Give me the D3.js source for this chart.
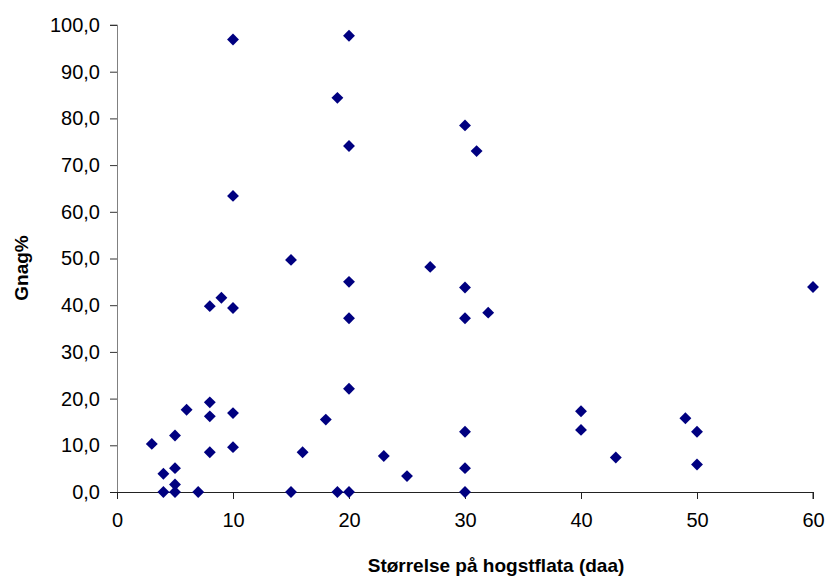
<!DOCTYPE html>
<html>
<head>
<meta charset="utf-8">
<script src="https://cdn.jsdelivr.net/npm/d3@7"></script>
<style>
  html, body { margin: 0; padding: 0; background: #fff; }
  svg { display: block; font-family: "Liberation Sans", Arial, sans-serif; }
</style>
</head>
<body>
<svg id="chart" width="827" height="577"></svg>
<script>
// Størrelse på hogstflata (daa)
const sizes = [3, 4, 4, 5, 5, 5, 5, 6, 7, 8, 8, 8, 10, 10, 15, 16, 18, 19, 20, 20,
  23, 25, 30, 30, 30, 40, 40, 43, 49, 50, 50,
  8, 9, 10, 15, 20, 20, 27, 30, 30, 32,
  10, 20, 19, 30, 31, 20, 10, 60];
// Gnag%
const gnag = [10.3, 3.9, 0, 12.1, 5.1, 1.6, 0, 17.6, 0, 19.2, 16.2, 8.5, 16.9, 9.6, 0, 8.5, 15.5, 0, 0, 22.1,
  7.7, 3.4, 12.9, 5.1, 0, 17.3, 13.3, 7.4, 15.8, 12.9, 5.9,
  39.8, 41.6, 39.4, 49.7, 45.0, 37.2, 48.2, 43.8, 37.2, 38.4,
  96.9, 97.7, 84.4, 78.5, 73.0, 74.1, 63.4, 43.9];
const xTicks = [0, 10, 20, 30, 40, 50, 60];
const yTicks = [0, 10, 20, 30, 40, 50, 60, 70, 80, 90, 100];
const xTitle = "Størrelse på hogstflata (daa)";
const yTitle = "Gnag%";

const svg = d3.select("#chart");
const pL = 117, pR = 813, pT = 25, pB = 492;
const x = d3.scaleLinear().domain([0, 60]).range([pL, pR]);
const y = d3.scaleLinear().domain([0, 100]).range([pB, pT]);
const fmt = v => v.toFixed(1).replace(".", ",");

// Y axis
const yAxis = svg.append("g").attr("transform", `translate(${pL},0)`)
  .call(d3.axisLeft(y).tickValues(yTicks).tickFormat(fmt).tickSize(7).tickPadding(10));
yAxis.select(".domain").attr("stroke", "#808080").attr("d", `M-7,${pT}H0.5V${pB}`);
yAxis.selectAll(".tick line").attr("stroke", "#333");
yAxis.selectAll("text").attr("font-size", 20).attr("fill", "#000");

// X axis
const xAxis = svg.append("g").attr("transform", `translate(0,${pB})`)
  .call(d3.axisBottom(x).tickValues(xTicks).tickFormat(d3.format("d")).tickSize(7).tickPadding(14));
xAxis.select(".domain").attr("stroke", "#222").attr("d", `M${pL - 7},0.5H${pR}V7`);
xAxis.selectAll(".tick line").attr("stroke", "#222");
xAxis.selectAll("text").attr("font-size", 20).attr("fill", "#000");

// Points
const diamond = d3.symbol().type(d3.symbolDiamond2).size(90);
svg.append("g").selectAll("path")
  .data(sizes.map((s, i) => [s, gnag[i]]))
  .join("path")
  .attr("d", diamond)
  .attr("transform", d => `translate(${x(d[0])},${y(d[1])})`)
  .attr("fill", "#000080");

// Titles
svg.append("text").attr("x", 496).attr("y", 572)
  .attr("text-anchor", "middle").attr("font-size", 19).attr("font-weight", "bold")
  .text(xTitle);
svg.append("text").attr("transform", `translate(28,268) rotate(-90)`)
  .attr("text-anchor", "middle").attr("font-size", 19).attr("font-weight", "bold")
  .text(yTitle);
</script>
</body>
</html>
